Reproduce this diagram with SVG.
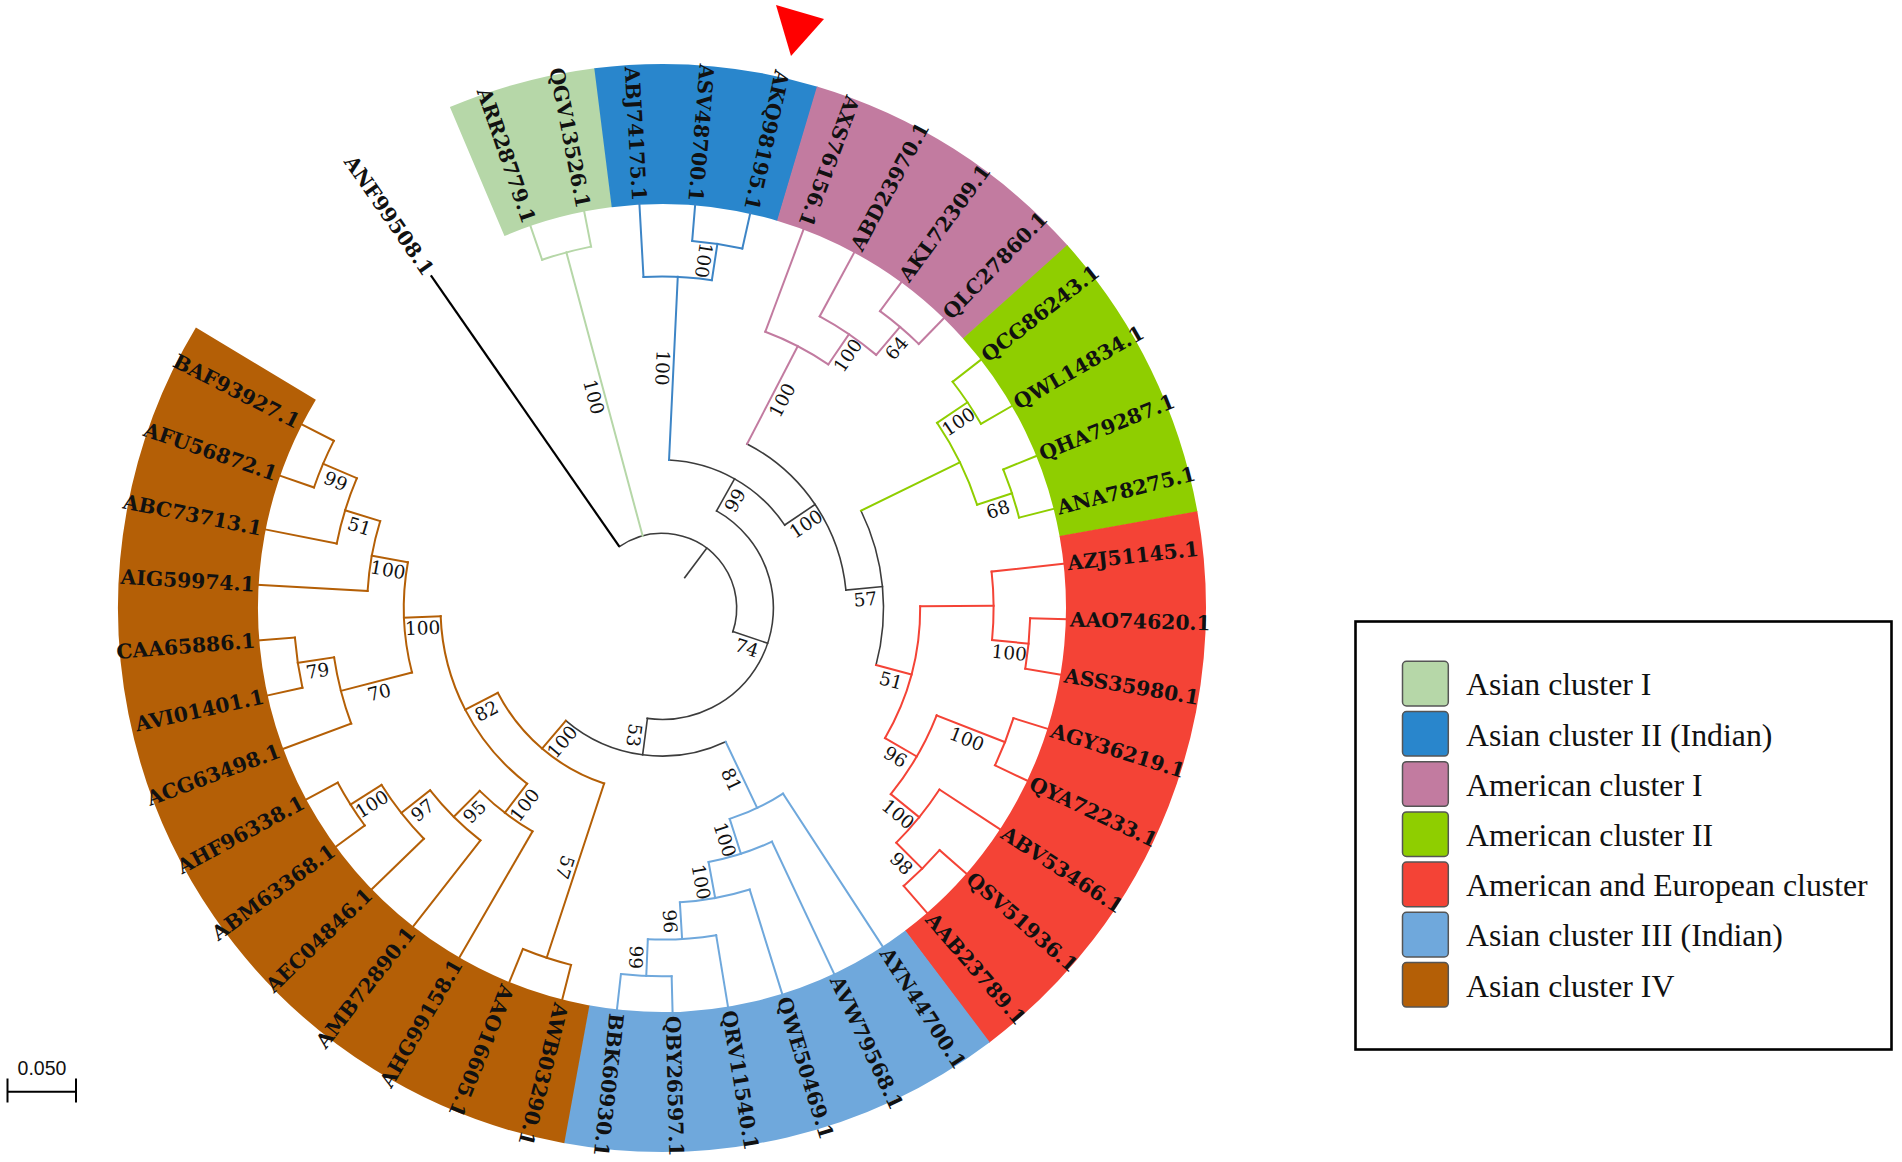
<svg xmlns="http://www.w3.org/2000/svg" width="1902" height="1162" viewBox="0 0 1902 1162">
<style>
.t{fill:none;stroke-width:2;stroke-linecap:square}
.k{stroke:#3c3c3c;stroke-width:1.6}
.lg{stroke:#b6d7a8}.bl{stroke:#3d85c6}.pk{stroke:#c27ba0}.gr{stroke:#8fce00}.rd{stroke:#f44336}.lb{stroke:#6fa8dc}.br{stroke:#b45f06}
.band{fill:none;stroke-width:140}
.lbl{font-family:"DejaVu Serif",serif;font-weight:bold;font-size:20.3px;fill:#111;dominant-baseline:central}
.f{text-anchor:end}
.bs{font-family:"DejaVu Serif",serif;font-size:18.5px;fill:#111;text-anchor:middle;dominant-baseline:central}
.leg{font-family:"Liberation Serif","Times New Roman",serif;font-size:31.8px;fill:#111}
.sw{stroke:#555;stroke-width:1.5}
</style>
<rect width="1902" height="1162" fill="#fff"/>
<g transform="translate(662 608)">
<g id="bands">
<circle class="band" r="474" stroke="#b6d7a8" stroke-dasharray="131.3 5000" transform="rotate(-112.95)"/>
<circle class="band" r="474" stroke="#2986cc" stroke-dasharray="196.7 5000" transform="rotate(-97.15)"/>
<circle class="band" r="474" stroke="#c27ba0" stroke-dasharray="262 5000" transform="rotate(-73.45)"/>
<circle class="band" r="474" stroke="#8fce00" stroke-dasharray="262 5000" transform="rotate(-41.85)"/>
<circle class="band" r="474" stroke="#f44336" stroke-dasharray="523.4 5000" transform="rotate(-10.25)"/>
<circle class="band" r="474" stroke="#6fa8dc" stroke-dasharray="392.7 5000" transform="rotate(52.95)"/>
<circle class="band" r="474" stroke="#b45f06" stroke-dasharray="915.6 5000" transform="rotate(100.35)"/>
</g>
<g id="connectors">
<!-- backbone -->
<line class="t k" x1="38" x2="74.7" transform="rotate(-53.19)"/>
<circle class="t k" r="74.7" stroke-dasharray="186.73 5000" transform="rotate(-124.8)"/>
<line x1="74.7" x2="405" stroke="#000" stroke-width="2.2" transform="rotate(-124.8)"/>
<line class="t k" x1="74.7" x2="111.4" transform="rotate(18.42)"/>
<circle class="t k" r="111.4" stroke-dasharray="307.55 5000" transform="rotate(-60.67)"/>
<line class="t k" x1="111.4" x2="148.1" transform="rotate(-60.67)"/>
<circle class="t k" r="148.1" stroke-dasharray="137.53 5000" transform="rotate(-87.275)"/>
<line class="t k" x1="148.1" x2="184.8" transform="rotate(-34.07)"/>
<circle class="t k" r="184.8" stroke-dasharray="183.93 5000" transform="rotate(-62.5875)"/>
<line class="t k" x1="184.8" x2="221.5" transform="rotate(-5.56)"/>
<circle class="t k" r="221.5" stroke-dasharray="158.43 5000" transform="rotate(-26.05)"/>
<line class="t k" x1="111.4" x2="148.1" transform="rotate(97.511)"/>
<circle class="t k" r="148.1" stroke-dasharray="170.38 5000" transform="rotate(64.553)"/>
<!-- Asian I -->
<line class="t lg" x1="74.7" x2="368.3" transform="rotate(-105.05)"/>
<circle class="t lg" r="368.3" stroke-dasharray="50.78 5000" transform="rotate(-109)"/>
<line class="t lg" x1="368.3" x2="405" transform="rotate(-109)"/>
<line class="t lg" x1="368.3" x2="405" transform="rotate(-101.1)"/>
<!-- Asian II -->
<line class="t bl" x1="148.1" x2="331.6" transform="rotate(-87.275)"/>
<circle class="t bl" r="331.6" stroke-dasharray="68.58 5000" transform="rotate(-93.2)"/>
<line class="t bl" x1="331.6" x2="405" transform="rotate(-93.2)"/>
<line class="t bl" x1="331.6" x2="368.3" transform="rotate(-81.35)"/>
<circle class="t bl" r="368.3" stroke-dasharray="50.78 5000" transform="rotate(-85.3)"/>
<line class="t bl" x1="368.3" x2="405" transform="rotate(-85.3)"/>
<line class="t bl" x1="368.3" x2="405" transform="rotate(-77.4)"/>
<!-- American I -->
<line class="t pk" x1="184.8" x2="294.9" transform="rotate(-62.5875)"/>
<circle class="t pk" r="294.9" stroke-dasharray="71.16 5000" transform="rotate(-69.5)"/>
<line class="t pk" x1="294.9" x2="405" transform="rotate(-69.5)"/>
<line class="t pk" x1="294.9" x2="331.6" transform="rotate(-55.675)"/>
<circle class="t pk" r="331.6" stroke-dasharray="68.58 5000" transform="rotate(-61.6)"/>
<line class="t pk" x1="331.6" x2="405" transform="rotate(-61.6)"/>
<line class="t pk" x1="331.6" x2="368.3" transform="rotate(-49.75)"/>
<circle class="t pk" r="368.3" stroke-dasharray="50.78 5000" transform="rotate(-53.7)"/>
<line class="t pk" x1="368.3" x2="405" transform="rotate(-53.7)"/>
<line class="t pk" x1="368.3" x2="405" transform="rotate(-45.8)"/>
<!-- American II -->
<line class="t gr" x1="221.5" x2="331.6" transform="rotate(-26.05)"/>
<circle class="t gr" r="331.6" stroke-dasharray="91.44 5000" transform="rotate(-33.95)"/>
<line class="t gr" x1="331.6" x2="368.3" transform="rotate(-33.95)"/>
<circle class="t gr" r="368.3" stroke-dasharray="50.78 5000" transform="rotate(-37.9)"/>
<line class="t gr" x1="368.3" x2="405" transform="rotate(-37.9)"/>
<line class="t gr" x1="368.3" x2="405" transform="rotate(-30)"/>
<line class="t gr" x1="331.6" x2="368.3" transform="rotate(-18.15)"/>
<circle class="t gr" r="368.3" stroke-dasharray="50.78 5000" transform="rotate(-22.1)"/>
<line class="t gr" x1="368.3" x2="405" transform="rotate(-22.1)"/>
<line class="t gr" x1="368.3" x2="405" transform="rotate(-14.2)"/>
<!-- American and European -->
<line class="t rd" x1="221.5" x2="258.2" transform="rotate(14.93)"/>
<circle class="t rd" r="258.2" stroke-dasharray="137.95 5000" transform="rotate(-0.375)"/>
<line class="t rd" x1="258.2" x2="331.6" transform="rotate(-0.375)"/>
<circle class="t rd" r="331.6" stroke-dasharray="68.58 5000" transform="rotate(-6.3)"/>
<line class="t rd" x1="331.6" x2="405" transform="rotate(-6.3)"/>
<line class="t rd" x1="331.6" x2="368.3" transform="rotate(5.55)"/>
<circle class="t rd" r="368.3" stroke-dasharray="50.78 5000" transform="rotate(1.6)"/>
<line class="t rd" x1="368.3" x2="405" transform="rotate(1.6)"/>
<line class="t rd" x1="368.3" x2="405" transform="rotate(9.5)"/>
<line class="t rd" x1="258.2" x2="294.9" transform="rotate(30.2375)"/>
<circle class="t rd" r="294.9" stroke-dasharray="91.49 5000" transform="rotate(21.35)"/>
<line class="t rd" x1="294.9" x2="368.3" transform="rotate(21.35)"/>
<circle class="t rd" r="368.3" stroke-dasharray="50.78 5000" transform="rotate(17.4)"/>
<line class="t rd" x1="368.3" x2="405" transform="rotate(17.4)"/>
<line class="t rd" x1="368.3" x2="405" transform="rotate(25.3)"/>
<line class="t rd" x1="294.9" x2="331.6" transform="rotate(39.125)"/>
<circle class="t rd" r="331.6" stroke-dasharray="68.58 5000" transform="rotate(33.2)"/>
<line class="t rd" x1="331.6" x2="405" transform="rotate(33.2)"/>
<line class="t rd" x1="331.6" x2="368.3" transform="rotate(45.05)"/>
<circle class="t rd" r="368.3" stroke-dasharray="50.78 5000" transform="rotate(41.1)"/>
<line class="t rd" x1="368.3" x2="405" transform="rotate(41.1)"/>
<line class="t rd" x1="368.3" x2="405" transform="rotate(49)"/>
<!-- Asian III -->
<line class="t lb" x1="148.1" x2="221.5" transform="rotate(64.553)"/>
<circle class="t lb" r="221.5" stroke-dasharray="59.17 5000" transform="rotate(56.9)"/>
<line class="t lb" x1="221.5" x2="405" transform="rotate(56.9)"/>
<line class="t lb" x1="221.5" x2="258.2" transform="rotate(72.206)"/>
<circle class="t lb" r="258.2" stroke-dasharray="66.75 5000" transform="rotate(64.8)"/>
<line class="t lb" x1="258.2" x2="405" transform="rotate(64.8)"/>
<line class="t lb" x1="258.2" x2="294.9" transform="rotate(79.6125)"/>
<circle class="t lb" r="294.9" stroke-dasharray="71.16 5000" transform="rotate(72.7)"/>
<line class="t lb" x1="294.9" x2="405" transform="rotate(72.7)"/>
<line class="t lb" x1="294.9" x2="331.6" transform="rotate(86.525)"/>
<circle class="t lb" r="331.6" stroke-dasharray="68.58 5000" transform="rotate(80.6)"/>
<line class="t lb" x1="331.6" x2="405" transform="rotate(80.6)"/>
<line class="t lb" x1="331.6" x2="368.3" transform="rotate(92.45)"/>
<circle class="t lb" r="368.3" stroke-dasharray="50.78 5000" transform="rotate(88.5)"/>
<line class="t lb" x1="368.3" x2="405" transform="rotate(88.5)"/>
<line class="t lb" x1="368.3" x2="405" transform="rotate(96.4)"/>
<!-- Asian IV -->
<line class="t br" x1="148.1" x2="184.8" transform="rotate(130.469)"/>
<circle class="t br" r="184.8" stroke-dasharray="143.33 5000" transform="rotate(108.25)"/>
<line class="t br" x1="184.8" x2="368.3" transform="rotate(108.25)"/>
<circle class="t br" r="368.3" stroke-dasharray="50.78 5000" transform="rotate(104.3)"/>
<line class="t br" x1="368.3" x2="405" transform="rotate(104.3)"/>
<line class="t br" x1="368.3" x2="405" transform="rotate(112.2)"/>
<line class="t br" x1="184.8" x2="221.5" transform="rotate(152.6875)"/>
<circle class="t br" r="221.5" stroke-dasharray="194.7 5000" transform="rotate(127.506)"/>
<line class="t br" x1="221.5" x2="258.2" transform="rotate(127.506)"/>
<circle class="t br" r="258.2" stroke-dasharray="66.75 5000" transform="rotate(120.1)"/>
<line class="t br" x1="258.2" x2="405" transform="rotate(120.1)"/>
<line class="t br" x1="258.2" x2="294.9" transform="rotate(134.9125)"/>
<circle class="t br" r="294.9" stroke-dasharray="71.16 5000" transform="rotate(128)"/>
<line class="t br" x1="294.9" x2="405" transform="rotate(128)"/>
<line class="t br" x1="294.9" x2="331.6" transform="rotate(141.825)"/>
<circle class="t br" r="331.6" stroke-dasharray="68.58 5000" transform="rotate(135.9)"/>
<line class="t br" x1="331.6" x2="405" transform="rotate(135.9)"/>
<line class="t br" x1="331.6" x2="368.3" transform="rotate(147.75)"/>
<circle class="t br" r="368.3" stroke-dasharray="50.78 5000" transform="rotate(143.8)"/>
<line class="t br" x1="368.3" x2="405" transform="rotate(143.8)"/>
<line class="t br" x1="368.3" x2="405" transform="rotate(151.7)"/>
<line class="t br" x1="221.5" x2="258.2" transform="rotate(177.869)"/>
<circle class="t br" r="258.2" stroke-dasharray="111.25 5000" transform="rotate(165.525)"/>
<line class="t br" x1="258.2" x2="331.6" transform="rotate(165.525)"/>
<circle class="t br" r="331.6" stroke-dasharray="68.58 5000" transform="rotate(159.6)"/>
<line class="t br" x1="331.6" x2="405" transform="rotate(159.6)"/>
<line class="t br" x1="331.6" x2="368.3" transform="rotate(171.45)"/>
<circle class="t br" r="368.3" stroke-dasharray="50.78 5000" transform="rotate(167.5)"/>
<line class="t br" x1="368.3" x2="405" transform="rotate(167.5)"/>
<line class="t br" x1="368.3" x2="405" transform="rotate(175.4)"/>
<line class="t br" x1="258.2" x2="294.9" transform="rotate(190.2125)"/>
<circle class="t br" r="294.9" stroke-dasharray="71.16 5000" transform="rotate(183.3)"/>
<line class="t br" x1="294.9" x2="405" transform="rotate(183.3)"/>
<line class="t br" x1="294.9" x2="331.6" transform="rotate(197.125)"/>
<circle class="t br" r="331.6" stroke-dasharray="68.58 5000" transform="rotate(191.2)"/>
<line class="t br" x1="331.6" x2="405" transform="rotate(191.2)"/>
<line class="t br" x1="331.6" x2="368.3" transform="rotate(203.05)"/>
<circle class="t br" r="368.3" stroke-dasharray="50.78 5000" transform="rotate(199.1)"/>
<line class="t br" x1="368.3" x2="405" transform="rotate(199.1)"/>
<line class="t br" x1="368.3" x2="405" transform="rotate(207)"/>
</g>
<g id="leaves">
<g id="leaf-ANF99508"><text class="lbl f" transform="rotate(-124.8) translate(408 0) rotate(180)">ANF99508.1</text></g>
<g id="leaf-ARR28779"><text class="lbl f" transform="rotate(-109) translate(408 0) rotate(180)">ARR28779.1</text></g>
<g id="leaf-QGV13526"><text class="lbl f" transform="rotate(-101.1) translate(408 0) rotate(180)">QGV13526.1</text></g>
<g id="leaf-ABJ74175"><text class="lbl f" transform="rotate(-93.2) translate(408 0) rotate(180)">ABJ74175.1</text></g>
<g id="leaf-ASV48700"><text class="lbl f" transform="rotate(-85.3) translate(408 0) rotate(180)">ASV48700.1</text></g>
<g id="leaf-AKQ98195"><text class="lbl f" transform="rotate(-77.4) translate(408 0) rotate(180)">AKQ98195.1</text></g>
<g id="leaf-AXS76156"><text class="lbl f" transform="rotate(-69.5) translate(408 0) rotate(180)">AXS76156.1</text></g>
<g id="leaf-ABD23970"><text class="lbl" transform="rotate(-61.6) translate(408 0)">ABD23970.1</text></g>
<g id="leaf-AKL72309"><text class="lbl" transform="rotate(-53.7) translate(408 0)">AKL72309.1</text></g>
<g id="leaf-QLC27860"><text class="lbl" transform="rotate(-45.8) translate(408 0)">QLC27860.1</text></g>
<g id="leaf-QCG86243"><text class="lbl" transform="rotate(-37.9) translate(408 0)">QCG86243.1</text></g>
<g id="leaf-QWL14834"><text class="lbl" transform="rotate(-30) translate(408 0)">QWL14834.1</text></g>
<g id="leaf-QHA79287"><text class="lbl" transform="rotate(-22.1) translate(408 0)">QHA79287.1</text></g>
<g id="leaf-ANA78275"><text class="lbl" transform="rotate(-14.2) translate(408 0)">ANA78275.1</text></g>
<g id="leaf-AZJ51145"><text class="lbl" transform="rotate(-6.3) translate(408 0)">AZJ51145.1</text></g>
<g id="leaf-AAO74620"><text class="lbl" transform="rotate(1.6) translate(408 0)">AAO74620.1</text></g>
<g id="leaf-ASS35980"><text class="lbl" transform="rotate(9.5) translate(408 0)">ASS35980.1</text></g>
<g id="leaf-AGY36219"><text class="lbl" transform="rotate(17.4) translate(408 0)">AGY36219.1</text></g>
<g id="leaf-QYA72233"><text class="lbl" transform="rotate(25.3) translate(408 0)">QYA72233.1</text></g>
<g id="leaf-ABV53466"><text class="lbl" transform="rotate(33.2) translate(408 0)">ABV53466.1</text></g>
<g id="leaf-QSV51936"><text class="lbl" transform="rotate(41.1) translate(408 0)">QSV51936.1</text></g>
<g id="leaf-AAB23789"><text class="lbl" transform="rotate(49) translate(408 0)">AAB23789.1</text></g>
<g id="leaf-AYN44700"><text class="lbl" transform="rotate(56.9) translate(408 0)">AYN44700.1</text></g>
<g id="leaf-AVW79568"><text class="lbl" transform="rotate(64.8) translate(408 0)">AVW79568.1</text></g>
<g id="leaf-QWE50469"><text class="lbl" transform="rotate(72.7) translate(408 0)">QWE50469.1</text></g>
<g id="leaf-QRV11540"><text class="lbl" transform="rotate(80.6) translate(408 0)">QRV11540.1</text></g>
<g id="leaf-QBY26597"><text class="lbl" transform="rotate(88.5) translate(408 0)">QBY26597.1</text></g>
<g id="leaf-BBK60930"><text class="lbl" transform="rotate(96.4) translate(408 0)">BBK60930.1</text></g>
<g id="leaf-AWB03290"><text class="lbl" transform="rotate(104.3) translate(408 0)">AWB03290.1</text></g>
<g id="leaf-AAO16605"><text class="lbl" transform="rotate(112.2) translate(408 0)">AAO16605.1</text></g>
<g id="leaf-AHG99158"><text class="lbl f" transform="rotate(120.1) translate(408 0) rotate(180)">AHG99158.1</text></g>
<g id="leaf-AMB72890"><text class="lbl f" transform="rotate(128) translate(408 0) rotate(180)">AMB72890.1</text></g>
<g id="leaf-AEC04846"><text class="lbl f" transform="rotate(135.9) translate(408 0) rotate(180)">AEC04846.1</text></g>
<g id="leaf-ABM63368"><text class="lbl f" transform="rotate(143.8) translate(408 0) rotate(180)">ABM63368.1</text></g>
<g id="leaf-AHF96338"><text class="lbl f" transform="rotate(151.7) translate(408 0) rotate(180)">AHF96338.1</text></g>
<g id="leaf-ACG63498"><text class="lbl f" transform="rotate(159.6) translate(408 0) rotate(180)">ACG63498.1</text></g>
<g id="leaf-AVI01401"><text class="lbl f" transform="rotate(167.5) translate(408 0) rotate(180)">AVI01401.1</text></g>
<g id="leaf-CAA65886"><text class="lbl f" transform="rotate(175.4) translate(408 0) rotate(180)">CAA65886.1</text></g>
<g id="leaf-AIG59974"><text class="lbl f" transform="rotate(183.3) translate(408 0) rotate(180)">AIG59974.1</text></g>
<g id="leaf-ABC73713"><text class="lbl f" transform="rotate(191.2) translate(408 0) rotate(180)">ABC73713.1</text></g>
<g id="leaf-AFU56872"><text class="lbl f" transform="rotate(199.1) translate(408 0) rotate(180)">AFU56872.1</text></g>
<g id="leaf-BAF93927"><text class="lbl f" transform="rotate(207) translate(408 0) rotate(180)">BAF93927.1</text></g>
</g>
<g id="bootstrap">
<g id="bs-AsI"><text class="bs" y="11" transform="rotate(-105.05) translate(221.5 0) rotate(180)">100</text></g>
<g id="bs-N74"><text class="bs" y="11" transform="rotate(18.42) translate(93.05 0)">74</text></g>
<g id="bs-N99"><text class="bs" y="11" transform="rotate(-60.67) translate(129.75 0)">99</text></g>
<g id="bs-AsII"><text class="bs" y="11" transform="rotate(-87.275) translate(239.85 0) rotate(180)">100</text></g>
<g id="bs-ASV"><text class="bs" y="11" transform="rotate(-81.35) translate(349.95 0) rotate(180)">100</text></g>
<g id="bs-N100"><text class="bs" y="11" transform="rotate(-34.07) translate(166.45 0)">100</text></g>
<g id="bs-AmI"><text class="bs" y="11" transform="rotate(-62.5875) translate(239.85 0)">100</text></g>
<g id="bs-ABD"><text class="bs" y="11" transform="rotate(-55.675) translate(313.25 0)">100</text></g>
<g id="bs-N64"><text class="bs" y="11" transform="rotate(-49.75) translate(349.95 0)">64</text></g>
<g id="bs-N57"><text class="bs" y="11" transform="rotate(-5.56) translate(203.15 0)">57</text></g>
<g id="bs-QCG"><text class="bs" y="11" transform="rotate(-33.95) translate(349.95 0)">100</text></g>
<g id="bs-QHA"><text class="bs" y="11" transform="rotate(-18.15) translate(349.95 0)">68</text></g>
<g id="bs-N51"><text class="bs" y="11" transform="rotate(14.93) translate(239.85 0)">51</text></g>
<g id="bs-AAO"><text class="bs" y="11" transform="rotate(5.55) translate(349.95 0)">100</text></g>
<g id="bs-N96"><text class="bs" y="11" transform="rotate(30.2375) translate(276.55 0)">96</text></g>
<g id="bs-AGY"><text class="bs" y="11" transform="rotate(21.35) translate(331.6 0)">100</text></g>
<g id="bs-N100c"><text class="bs" y="11" transform="rotate(39.125) translate(313.25 0)">100</text></g>
<g id="bs-N98"><text class="bs" y="11" transform="rotate(45.05) translate(349.95 0)">98</text></g>
<g id="bs-N53"><text class="bs" y="11" transform="rotate(97.511) translate(129.75 0)">53</text></g>
<g id="bs-N81"><text class="bs" y="11" transform="rotate(64.553) translate(184.8 0)">81</text></g>
<g id="bs-N100e"><text class="bs" y="11" transform="rotate(72.206) translate(239.85 0)">100</text></g>
<g id="bs-N100f"><text class="bs" y="11" transform="rotate(79.6125) translate(276.55 0)">100</text></g>
<g id="bs-N96b"><text class="bs" y="11" transform="rotate(86.525) translate(313.25 0)">96</text></g>
<g id="bs-N99b"><text class="bs" y="11" transform="rotate(92.45) translate(349.95 0)">99</text></g>
<g id="bs-N100d"><text class="bs" y="11" transform="rotate(130.469) translate(166.45 0) rotate(180)">100</text></g>
<g id="bs-AW"><text class="bs" y="11" transform="rotate(108.25) translate(276.55 0)">57</text></g>
<g id="bs-N82"><text class="bs" y="11" transform="rotate(152.6875) translate(203.15 0) rotate(180)">82</text></g>
<g id="bs-N100g"><text class="bs" y="11" transform="rotate(127.506) translate(239.85 0) rotate(180)">100</text></g>
<g id="bs-N95"><text class="bs" y="11" transform="rotate(134.9125) translate(276.55 0) rotate(180)">95</text></g>
<g id="bs-N97"><text class="bs" y="11" transform="rotate(141.825) translate(313.25 0) rotate(180)">97</text></g>
<g id="bs-AHF"><text class="bs" y="11" transform="rotate(147.75) translate(349.95 0) rotate(180)">100</text></g>
<g id="bs-N100h"><text class="bs" y="11" transform="rotate(177.869) translate(239.85 0) rotate(180)">100</text></g>
<g id="bs-N70"><text class="bs" y="11" transform="rotate(165.525) translate(294.9 0) rotate(180)">70</text></g>
<g id="bs-N79"><text class="bs" y="11" transform="rotate(171.45) translate(349.95 0) rotate(180)">79</text></g>
<g id="bs-N100i"><text class="bs" y="11" transform="rotate(190.2125) translate(276.55 0) rotate(180)">100</text></g>
<g id="bs-N51b"><text class="bs" y="11" transform="rotate(197.125) translate(313.25 0) rotate(180)">51</text></g>
<g id="bs-N99c"><text class="bs" y="11" transform="rotate(203.05) translate(349.95 0) rotate(180)">99</text></g>
</g>
</g>
<g id="marker"><polygon points="776,5 824,19 791,56" fill="#ff0000"/></g>
<g id="scalebar" stroke="#000" stroke-width="2">
<line x1="7.5" y1="1091.7" x2="76" y2="1091.7"/>
<line x1="7.5" y1="1078.5" x2="7.5" y2="1102.5"/>
<line x1="76" y1="1078.5" x2="76" y2="1102.5"/>
</g>
<text x="42" y="1075" font-family="Liberation Sans,Arial,sans-serif" font-size="19.5" text-anchor="middle" fill="#111">0.050</text>
<g id="legend">
<rect x="1355.5" y="621.5" width="536" height="428" fill="#fff" stroke="#000" stroke-width="2.6"/>
<rect class="sw" x="1402.5" y="661.3" width="45.8" height="44.6" rx="4" fill="#b6d7a8"/>
<rect class="sw" x="1402.5" y="711.5" width="45.8" height="44.6" rx="4" fill="#2986cc"/>
<rect class="sw" x="1402.5" y="761.7" width="45.8" height="44.6" rx="4" fill="#c27ba0"/>
<rect class="sw" x="1402.5" y="811.9" width="45.8" height="44.6" rx="4" fill="#8fce00"/>
<rect class="sw" x="1402.5" y="862.1" width="45.8" height="44.6" rx="4" fill="#f44336"/>
<rect class="sw" x="1402.5" y="912.3" width="45.8" height="44.6" rx="4" fill="#6fa8dc"/>
<rect class="sw" x="1402.5" y="962.5" width="45.8" height="44.6" rx="4" fill="#b45f06"/>
<text class="leg" x="1466" y="695.3">Asian cluster I</text>
<text class="leg" x="1466" y="745.5">Asian cluster II (Indian)</text>
<text class="leg" x="1466" y="795.7">American cluster I</text>
<text class="leg" x="1466" y="845.9">American cluster II</text>
<text class="leg" x="1466" y="896.1">American and European cluster</text>
<text class="leg" x="1466" y="946.3">Asian cluster III (Indian)</text>
<text class="leg" x="1466" y="996.5">Asian cluster IV</text>
</g>
</svg>
